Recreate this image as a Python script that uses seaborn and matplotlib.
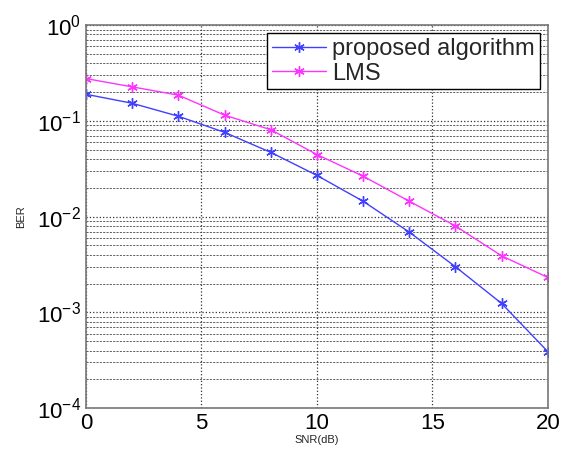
import numpy as np
import pandas as pd
import matplotlib
matplotlib.use('Agg')
import matplotlib.pyplot as plt
import matplotlib.ticker as mticker
import seaborn as sns

# SNR values (dB) and BER
snr = [0, 2, 4, 6, 8, 10, 12, 14, 16, 18, 20]
ber_proposed = [0.19, 0.153, 0.112, 0.076, 0.047, 0.027, 0.0145, 0.0069, 0.0030, 0.00124, 0.00039]
ber_lms = [0.277, 0.227, 0.186, 0.115, 0.081, 0.0446, 0.0265, 0.0145, 0.0080, 0.0039, 0.00232]
series_names = ['proposed algorithm', 'LMS']
series_colors = ['#4040ff', '#ff33ff']

df = pd.concat([
    pd.DataFrame({'SNR': snr, 'BER': ber_proposed, 'method': series_names[0]}),
    pd.DataFrame({'SNR': snr, 'BER': ber_lms, 'method': series_names[1]}),
])

sns.set_style('white')
plt.rcParams['font.family'] = ['Liberation Sans', 'DejaVu Sans']
plt.rcParams['mathtext.fontset'] = 'custom'
plt.rcParams['mathtext.rm'] = 'Liberation Sans'

fig = plt.figure(figsize=(5.73, 4.5), dpi=100)
ax = fig.add_axes([0.150, 0.093, 0.806, 0.851])

sns.lineplot(data=df, x='SNR', y='BER', hue='method', palette=series_colors,
             linewidth=1.0, ax=ax, legend=False)

# matlab-style asterisk markers (seaborn makes marker edges white by default)
for line, c in zip(ax.lines, series_colors):
    line.set_linestyle('-')
    line.set_marker((6, 2, 0))
    line.set_markersize(7.5)
    line.set_markeredgewidth(1.0)
    line.set_markeredgecolor(c)
    line.set_markerfacecolor(c)

ax.set_yscale('log')
ax.set_xlim(0, 20)
ax.set_ylim(1e-4, 1)
ax.set_xticks([0, 5, 10, 15, 20])
ax.yaxis.set_major_locator(mticker.LogLocator(base=10, numticks=10))
ax.yaxis.set_minor_locator(mticker.LogLocator(base=10, subs=np.arange(2, 10), numticks=10))
ax.yaxis.set_minor_formatter(mticker.NullFormatter())
ax.yaxis.set_major_formatter(mticker.FuncFormatter(lambda v, p: r'$10^{%d}$' % round(np.log10(v))))

ax.grid(True, which='major', axis='both', color='#333333', linestyle=':', linewidth=0.9)
ax.grid(True, which='minor', axis='y', color='#444444', linestyle=(0, (2.5, 1.5)), linewidth=0.6)

for s in ax.spines.values():
    s.set_color('#777777')
    s.set_linewidth(1.2)

ax.tick_params(axis='both', which='major', labelsize=16, direction='in', length=5, colors='#777777', labelcolor='black')
ax.tick_params(axis='y', which='minor', direction='in', length=3, colors='#777777')
ax.set_xlabel('SNR(dB)', fontsize=8, labelpad=1)
ax.set_ylabel('BER', fontsize=8, labelpad=8)

leg = ax.legend(ax.lines[:2], series_names, loc='upper right', fontsize=17, frameon=True,
                fancybox=False, handlelength=2.3, borderpad=0.2, labelspacing=0.1,
                borderaxespad=0.35, handletextpad=0.25, framealpha=1)
leg.get_frame().set_edgecolor('black')
leg.get_frame().set_linewidth(1.0)

fig.savefig('out.png', dpi=100)
